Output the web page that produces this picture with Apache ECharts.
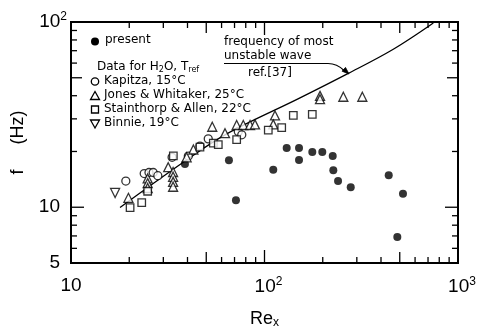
<!DOCTYPE html>
<html>
<head>
<meta charset="utf-8">
<script src="https://cdn.jsdelivr.net/npm/echarts@6/dist/echarts.min.js"></script>
<style>
html,body{margin:0;padding:0;background:#fff;}
#chart{width:479px;height:334px;}
</style>
</head>
<body>
<div id="chart"></div>
<script>
// ---- data (Re_x, f in Hz) ----
var presentData = [[38.8,17.1],[65.5,17.95],[71.2,10.9],[111,15.95],[130.2,20.9],[150.8,20.9],[150.8,17.99],[176.6,19.9],[198.9,19.9],[225.2,18.88],[226.8,15.86],[239.9,13.85],[279,12.83],[438.5,14.89],[519.6,11.84],[485.7,6.91]];
var kapitzaData = [[19.2,13.85],[23.9,15.2],[25.3,15.4],[26.6,15.4],[28.1,14.8],[33.3,18.6],[40.4,18.9],[46.4,21.4],[51.2,23.4],[73.2,25.6],[76.3,24.6]];
var jonesData = [[19.8,11.24],[24.9,14.3],[24.9,13.5],[24.9,12.7],[31.8,16.45],[33.7,15.5],[33.7,14.6],[33.7,13.7],[33.7,12.9],[39.6,18.6],[42.9,20.5],[53.7,27.2],[62.5,25.1],[71.8,27.8],[77.7,27.8],[84.2,27.8],[89.3,28.0],[113.3,31.3],[111,28.0],[193.6,39.9],[193.6,38.3],[255.5,39.5],[320.3,39.5]];
var stainthorpData = [[20.2,9.96],[23.2,10.6],[24.9,12.2],[33.8,18.95],[46.4,21.1],[54.4,22.2],[57.7,21.8],[71.8,23.2],[104.6,26.1],[122.7,26.9],[140.9,31.3],[176.6,31.7]];
var binnieData = [[16.9,11.94]];
var curveX = [17.92, 38.05, 62.5, 150.8, 271, 463, 745.6];
var curveY = [9.96, 17.48, 24.6, 38.7, 52.8, 71.3, 98.8];
// ---- ticks ----
var xMajorTicks = [10, 100, 1000];
var xMidTicks = [50, 500];
var xMinorTicks = [20,30,40,60,70,80,90,200,300,400,600,700,800,900];
var yMajorTicks = [10, 100];
var yMidTicks = [50];
var yMinorTicks = [6,7,8,9,20,30,40,60,70,80,90];
var xLabelMap = {10:'10', 100:'{b|10}{s|2}', 1000:'{b|10}{s|3}'};
var yLabelMap = {5:'{n|5}', 10:'{n|10}', 100:'{m|10}{s|2}'};
var legendNames = ['present','Kapitza, 15°C','Jones & Whitaker, 25°C','Stainthorp & Allen, 22°C','Binnie, 19°C'];

var XMIN=10, XMAX=1000, YMIN=5, YMAX=100;
var FONT = 'Liberation Sans';
var TFONT = 'DejaVu Sans';

function tickData(list, len){ return list.map(function(v){ return [v, len]; }); }
var xTickData = tickData(xMajorTicks,13).concat(tickData(xMidTicks,11)).concat(tickData(xMinorTicks,6));
var yTickData = tickData(yMajorTicks,13).concat(tickData(yMidTicks,11)).concat(tickData(yMinorTicks,6));

var chart = echarts.init(document.getElementById('chart'), null, {renderer:'canvas'});

function lineStyleBlack(){ return {stroke:'#000', lineWidth:1.3}; }

var option = {
  animation:false,
  backgroundColor:'#fff',
  textStyle:{fontFamily:FONT, color:'#000'},
  grid:{left:71, right:21, top:22, bottom:62, show:true, borderColor:'#000', borderWidth:2, backgroundColor:'transparent'},
  xAxis:{
    type:'log', logBase:10, min:XMIN, max:XMAX,
    axisLine:{show:false}, axisTick:{show:false}, splitLine:{show:false},
    axisLabel:{
      margin:13, color:'#000', fontSize:19, fontFamily:FONT,
      formatter:function(v){ var r=Math.round(v); return xLabelMap[r]!==undefined?xLabelMap[r]:''; },
      rich:{ b:{fontSize:19, padding:[0,0,0,8], fontFamily:FONT, color:'#000'}, s:{fontSize:12, padding:[0,0,10,0], fontFamily:FONT, color:'#000'} }
    },
    name:'{r|Re}{x|x}', nameLocation:'middle', nameGap:46,
    nameTextStyle:{ rich:{ r:{fontSize:18, fontFamily:FONT, color:'#000'}, x:{fontSize:12, padding:[8,0,0,0], fontFamily:FONT, color:'#000'} } }
  },
  yAxis:{
    type:'log', logBase:10, min:YMIN, max:YMAX,
    axisLine:{show:false}, axisTick:{show:false}, splitLine:{show:false},
    axisLabel:{
      margin:4, color:'#000', fontSize:19, fontFamily:FONT,
      formatter:function(v){ var r=Math.round(v); return yLabelMap[r]!==undefined?yLabelMap[r]:''; },
      rich:{ n:{fontSize:19, padding:[0,7,0,0], fontFamily:FONT, color:'#000'}, m:{fontSize:19, padding:[0,0,0,0], fontFamily:FONT, color:'#000'}, s:{fontSize:12, padding:[0,0,10,0], fontFamily:FONT, color:'#000'} }
    },
    name:'f     (Hz)', nameLocation:'middle', nameGap:44, nameRotate:90,
    nameTextStyle:{fontSize:18, fontFamily:FONT, color:'#000'}
  },
  series:[
    {
      type:'line', name:'ref37', data:curveX.map(function(x,i){return [x, curveY[i]];}),
      smooth:0.35, showSymbol:false, symbol:'none', clip:true,
      lineStyle:{color:'#000', width:1.3}, z:3
    },
    {
      type:'scatter', name:legendNames[0], data:presentData, symbol:'circle', symbolSize:8,
      itemStyle:{color:'#000', borderWidth:0}, z:4
    },
    {
      type:'scatter', name:legendNames[1], data:kapitzaData, symbol:'circle', symbolSize:8,
      itemStyle:{color:'#fff', borderColor:'#000', borderWidth:1.3}, z:5
    },
    {
      type:'scatter', name:legendNames[2], data:jonesData, symbol:'triangle', symbolSize:9,
      itemStyle:{color:'#fff', borderColor:'#000', borderWidth:1.3}, z:5
    },
    {
      type:'scatter', name:legendNames[3], data:stainthorpData, symbol:'rect', symbolSize:7.5,
      itemStyle:{color:'#fff', borderColor:'#000', borderWidth:1.3}, z:5
    },
    {
      type:'scatter', name:legendNames[4], data:binnieData, symbol:'triangle', symbolRotate:180, symbolSize:9,
      itemStyle:{color:'#fff', borderColor:'#000', borderWidth:1.3}, z:5
    },
    {
      type:'custom', name:'xticks', data:xTickData, clip:false, silent:true, z:6,
      renderItem:function(params, api){
        var v = api.value(0), len = api.value(1);
        var b = api.coord([v, YMIN]), t = api.coord([v, YMAX]);
        return {type:'group', children:[
          {type:'line', shape:{x1:b[0],y1:b[1],x2:b[0],y2:b[1]-len}, style:lineStyleBlack()},
          {type:'line', shape:{x1:t[0],y1:t[1],x2:t[0],y2:t[1]+len}, style:lineStyleBlack()}
        ]};
      },
      encode:{x:0}
    },
    {
      type:'custom', name:'yticks', data:yTickData.map(function(d){return [XMIN, d[0], d[1]];}), clip:false, silent:true, z:6,
      renderItem:function(params, api){
        var v = api.value(1), len = api.value(2);
        var l = api.coord([XMIN, v]), r = api.coord([XMAX, v]);
        return {type:'group', children:[
          {type:'line', shape:{x1:l[0],y1:l[1],x2:l[0]+len,y2:l[1]}, style:lineStyleBlack()},
          {type:'line', shape:{x1:r[0],y1:r[1],x2:r[0]-len,y2:r[1]}, style:lineStyleBlack()}
        ]};
      },
      encode:{x:0, y:1}
    }
  ],
  graphic:[
    // legend
    {type:'circle', shape:{cx:95, cy:41.5, r:4}, style:{fill:'#000'}},
    {type:'text', left:105, top:34, style:{text:legendNames[0], fontSize:12, fontFamily:TFONT, fill:'#000'}},
    {type:'text', left:97, top:61, style:{text:'Data for H{sub|2}O, T{sub|ref}', fontSize:12, fontFamily:TFONT, fill:'#000',
      rich:{sub:{fontSize:8, padding:[6,0,0,0], fontFamily:TFONT, fill:'#000'}}}},
    {type:'circle', shape:{cx:95, cy:81.5, r:3.7}, style:{fill:'#fff', stroke:'#000', lineWidth:1.3}},
    {type:'text', left:104, top:74.5, style:{text:legendNames[1], fontSize:12, fontFamily:TFONT, fill:'#000'}},
    {type:'polygon', shape:{points:[[95,91.5],[99.5,99.5],[90.5,99.5]]}, style:{fill:'#fff', stroke:'#000', lineWidth:1.3}},
    {type:'text', left:104, top:88.5, style:{text:legendNames[2], fontSize:12, fontFamily:TFONT, fill:'#000'}},
    {type:'rect', shape:{x:91.5, y:106, width:7, height:7}, style:{fill:'#fff', stroke:'#000', lineWidth:1.3}},
    {type:'text', left:104, top:102.5, style:{text:legendNames[3], fontSize:12, fontFamily:TFONT, fill:'#000'}},
    {type:'polygon', shape:{points:[[90.5,120],[99.5,120],[95,128]]}, style:{fill:'#fff', stroke:'#000', lineWidth:1.3}},
    {type:'text', left:104, top:116.5, style:{text:legendNames[4], fontSize:12, fontFamily:TFONT, fill:'#000'}},
    // annotation
    {type:'text', left:224, top:36, style:{text:'frequency of most', fontSize:12, fontFamily:TFONT, fill:'#000'}},
    {type:'text', left:224, top:50, style:{text:'unstable wave', fontSize:12, fontFamily:TFONT, fill:'#000'}},
    {type:'text', left:248, top:67, style:{text:'ref.[37]', fontSize:12, fontFamily:TFONT, fill:'#000'}},
    {type:'polyline', shape:{points:[[224,63.5],[328,63.5]]}, style:{stroke:'#000', lineWidth:1.2, fill:null}},
    {type:'bezierCurve', shape:{x1:328,y1:63.5,x2:344,y2:70.5,cpx1:337,cpy1:63.5}, style:{stroke:'#000', lineWidth:1.2, fill:null}},
    {type:'polygon', shape:{points:[[349,74],[342.1,71.2],[345.5,67.4]]}, style:{fill:'#000', stroke:'#000', lineWidth:0.8}}
  ]
};
chart.setOption(option);
</script>
</body>
</html>
